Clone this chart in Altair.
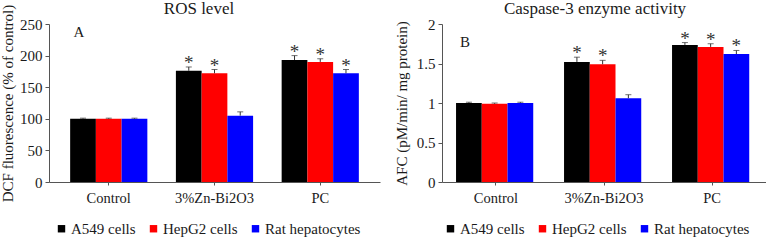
import altair as alt
import pandas as pd

groups = ["Control", "3%Zn-Bi2O3", "PC"]
cells = ["A549 cells", "HepG2 cells", "Rat hepatocytes"]
colors = ["#000000", "#ff0000", "#0000ff"]

# Panel A: ROS level (DCF fluorescence, % of control)
ros_a549 = [100, 176, 193]
ros_hepg2 = [100, 172, 190]
ros_rat = [100, 105, 172]
ros_err_a549 = [1, 6, 7]
ros_err_hepg2 = [1, 6, 5]
ros_err_rat = [1, 6, 6]
ros_sig_a549 = [False, True, True]
ros_sig_hepg2 = [False, True, True]
ros_sig_rat = [False, False, True]

# Panel B: Caspase-3 enzyme activity
casp_a549 = [1.0, 1.52, 1.735]
casp_hepg2 = [0.99, 1.49, 1.71]
casp_rat = [1.0, 1.06, 1.62]
casp_err_a549 = [0.01, 0.06, 0.03]
casp_err_hepg2 = [0.01, 0.05, 0.04]
casp_err_rat = [0.01, 0.045, 0.045]
casp_sig_a549 = [False, True, True]
casp_sig_hepg2 = [False, True, True]
casp_sig_rat = [False, False, True]

FONT = "Liberation Serif"
LFONT = "Liberation Serif, Times New Roman, serif"
TXT = "#1a1a1a"
AX = "#555555"


def make_df(vals, errs, sigs):
    rows = []
    for ci, cell in enumerate(cells):
        for gi, g in enumerate(groups):
            v = vals[ci][gi]
            e = errs[ci][gi]
            rows.append({"group": g, "cell": cell, "value": v, "top": v + e,
                         "sig": sigs[ci][gi]})
    return pd.DataFrame(rows)


ros_df = make_df([ros_a549, ros_hepg2, ros_rat],
                 [ros_err_a549, ros_err_hepg2, ros_err_rat],
                 [ros_sig_a549, ros_sig_hepg2, ros_sig_rat])
casp_df = make_df([casp_a549, casp_hepg2, casp_rat],
                  [casp_err_a549, casp_err_hepg2, casp_err_rat],
                  [casp_sig_a549, casp_sig_hepg2, casp_sig_rat])


def panel(df, title, title_x, ytitle, ymax, yticks, letter, letter_x, letter_y,
          width, pin, pout, title_pad, legend_x):
    xenc = alt.X("group:N", sort=groups,
                 scale=alt.Scale(paddingInner=pin, paddingOuter=pout),
                 axis=alt.Axis(title=None, labelAngle=0, labelFont=FONT,
                               labelFontSize=14.5, labelColor=TXT,
                               labelPadding=6, tickSize=3, tickColor=AX,
                               domainColor=AX))
    xoff = alt.XOffset("cell:N", sort=cells,
                       scale=alt.Scale(paddingInner=0, paddingOuter=0))
    yaxis = alt.Axis(title=ytitle, values=yticks,
                     labelExpr="datum.value + ''", grid=False,
                     labelFont=FONT, labelFontSize=15, labelColor=TXT,
                     labelPadding=3, tickSize=4, tickColor=AX, domainColor=AX,
                     titleFont=FONT, titleFontSize=15, titleFontWeight="normal",
                     titleColor=TXT, titlePadding=title_pad)
    yscale = alt.Scale(domain=[0, ymax], nice=False)

    base = alt.Chart(df).encode(x=xenc, xOffset=xoff)
    bars = base.mark_bar().encode(
        y=alt.Y("value:Q", scale=yscale, axis=yaxis),
        color=alt.Color("cell:N", sort=cells,
                        scale=alt.Scale(domain=cells, range=colors),
                        legend=alt.Legend(
                            title=None, orient="none", direction="horizontal",
                            legendX=legend_x, legendY=197,
                            symbolType="square", symbolSize=55,
                            symbolStrokeWidth=0, labelFont=LFONT,
                            labelFontSize=15, labelColor=TXT,
                            labelOffset=2, columnPadding=10)),
    )
    rules = base.mark_rule(color="#333333", strokeWidth=1).encode(
        y=alt.Y("value:Q", scale=yscale, axis=yaxis), y2="top:Q")
    caps = base.mark_tick(color="#333333", size=6, thickness=1).encode(
        y=alt.Y("top:Q", scale=yscale, axis=yaxis))
    stars = base.transform_filter("datum.sig").mark_text(
        text="*", font=FONT, fontSize=19, color="#333333",
        baseline="alphabetic", dy=2).encode(
        y=alt.Y("top:Q", scale=yscale, axis=yaxis))
    lab = alt.Chart(pd.DataFrame({"t": [letter]})).mark_text(
        font=FONT, fontSize=15, color=TXT, align="center",
        baseline="middle").encode(text="t:N", x=alt.value(letter_x),
                                  y=alt.value(letter_y))
    ttl = alt.Chart(pd.DataFrame({"t": [title]})).mark_text(
        font=FONT, fontSize=17, color=TXT, align="center",
        baseline="middle").encode(text="t:N", x=alt.value(title_x),
                                  y=alt.value(-15))
    return alt.layer(bars, rules, caps, stars, lab, ttl).properties(
        width=width, height=158)


left = panel(ros_df, "ROS level", 150, "DCF fluorescence (% of control)", 250,
             [0, 50, 100, 150, 200, 250], "A", 30, 8, 331, 0.27, 0.2, 4, 5)
right = panel(casp_df, "Caspase-3  enzyme activity", 153,
              "AFC (pM/min/ mg protein)", 2, [0, 0.5, 1, 1.5, 2], "B", 23, 18,
              324, 0.26, 0.13, 7, 1)

chart = alt.hconcat(left, right, spacing=14).resolve_scale(
    color="independent").configure(font=FONT).configure_view(
    stroke=None).configure_legend(
    labelFont=LFONT, labelFontSize=15, labelColor=TXT).properties(
    padding={"left": 0, "top": 0, "right": 0, "bottom": 0},
    background="white")

chart.save("out.html", embed_options={"renderer": "svg", "actions": False})
